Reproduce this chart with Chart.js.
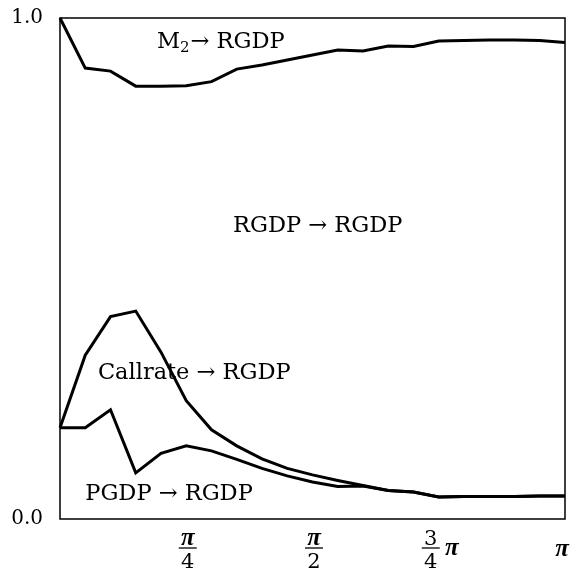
<!DOCTYPE html>
<html>
<head>
<meta charset="utf-8">
<script src="https://cdn.jsdelivr.net/npm/chart.js@4.4.0/dist/chart.umd.min.js"></script>
<style>
  body { margin: 0; background: #fff; }
  #wrap { width: 578px; height: 571px; }
</style>
</head>
<body>
<div id="wrap"><canvas id="grafico"></canvas></div>
<script>
// frequency steps 0..20 (step = pi/20)
const steps = [0, 1, 2, 3, 4, 5, 6, 7, 8, 9, 10, 11, 12, 13, 14, 15, 16, 17, 18, 19, 20]

const m2 = [1.0, 0.900, 0.894, 0.864, 0.864, 0.865, 0.873, 0.898, 0.906, 0.916, 0.926,
  0.936, 0.934, 0.944, 0.943, 0.954, 0.955, 0.956, 0.956, 0.955, 0.951]
const callrate = [0.182, 0.327, 0.404, 0.415, 0.333, 0.236, 0.178, 0.146, 0.120, 0.101, 0.088,
  0.077, 0.067, 0.057, 0.054, 0.044, 0.045, 0.045, 0.045, 0.046, 0.046]
const pgdp = [0.182, 0.182, 0.218, 0.092, 0.131, 0.146, 0.136, 0.119, 0.101, 0.086, 0.074,
  0.065, 0.066, 0.057, 0.054, 0.044, 0.045, 0.045, 0.045, 0.046, 0.046]

const yTicks = [0, 1]
const xTicks = [
  { at: 5, num: "π", den: "4" },
  { at: 10, num: "π", den: "2" },
  { at: 15, num: "3", den: "4", tail: "π" },
  { at: 20, single: "π" },
]

const serif = "'DejaVu Serif', serif"
const piFont = "bold italic 25px 'Liberation Serif', serif"

// curve names, anchored in data units (step, share)
const notes = [
  { text: "M", sub: "2", rest: "→ RGDP", x: 3.84, y: 0.940 },
  { text: "RGDP → RGDP", x: 6.85, y: 0.573 },
  { text: "Callrate → RGDP", x: 1.5, y: 0.279 },
  { text: "PGDP → RGDP", x: 1.0, y: 0.038 },
]

const desenho = {
  id: "desenho",
  afterDraw(chart) {
    const ctx = chart.ctx
    const a = chart.chartArea
    const xs = chart.scales.x
    const ys = chart.scales.y
    ctx.save()
    ctx.strokeStyle = "#000"
    ctx.lineWidth = 1.5
    ctx.strokeRect(a.left, a.top, a.right - a.left, a.bottom - a.top)

    ctx.fillStyle = "#000"
    ctx.textBaseline = "alphabetic"
    ctx.textAlign = "left"
    notes.forEach(n => {
      let px = xs.getPixelForValue(n.x)
      const py = ys.getPixelForValue(n.y)
      ctx.font = "22.5px " + serif
      ctx.fillText(n.text, px, py)
      if (n.sub) {
        px += ctx.measureText(n.text).width
        ctx.font = "15px " + serif
        ctx.fillText(n.sub, px, py + 4)
        px += ctx.measureText(n.sub).width + 1
        ctx.font = "22.5px " + serif
        ctx.fillText(n.rest, px, py)
      }
    })

    ctx.textAlign = "center"
    xTicks.forEach(t => {
      const px = xs.getPixelForValue(t.at)
      const b = a.bottom
      if (t.single) {
        ctx.font = piFont
        ctx.fillText(t.single, px - 3, b + 37)
        return
      }
      let cx = px + 1.5
      if (t.tail) cx = px - 8
      ctx.font = t.num === "π" ? piFont : "21px " + serif
      ctx.fillText(t.num, cx, b + 26)
      ctx.font = "21px " + serif
      ctx.fillText(t.den, cx, b + 49)
      ctx.lineWidth = 1.3
      ctx.beginPath()
      ctx.moveTo(cx - 9, b + 29)
      ctx.lineTo(cx + 9, b + 29)
      ctx.stroke()
      if (t.tail) {
        ctx.font = piFont
        ctx.fillText(t.tail, px + 13, b + 36)
      }
    })
    ctx.restore()
  },
}

function serie(valores) {
  return {
    data: valores,
    borderColor: "#000",
    borderWidth: 3,
    pointRadius: 0,
    tension: 0,
    fill: false,
    clip: 4,
  }
}

new Chart(document.getElementById("grafico"), {
  type: "line",
  data: {
    labels: steps,
    datasets: [serie(m2), serie(callrate), serie(pgdp)],
  },
  options: {
    responsive: true,
    maintainAspectRatio: false,
    animation: false,
    layout: { padding: { left: 0, right: 13, top: 18, bottom: 52 } },
    plugins: { legend: { display: false }, tooltip: { enabled: false } },
    scales: {
      x: {
        type: "category",
        offset: false,
        display: false,
      },
      y: {
        min: 0,
        max: 1,
        afterBuildTicks: s => { s.ticks = yTicks.map(v => ({ value: v })) },
        afterFit: s => {
          s.width = 60
          s.paddingTop = 0
          s.paddingBottom = 0
        },
        grid: { display: false, drawTicks: false },
        border: { display: false },
        ticks: {
          padding: 17,
          color: "#000",
          font: { family: serif, size: 20 },
          callback: v => v.toFixed(1),
        },
      },
    },
  },
  plugins: [desenho],
})
</script>
</body>
</html>
